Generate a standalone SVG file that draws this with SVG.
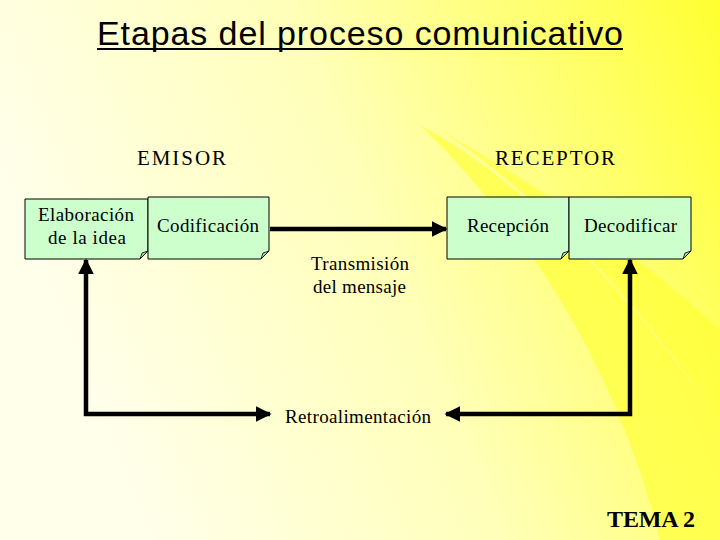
<svg xmlns="http://www.w3.org/2000/svg" width="720" height="540" viewBox="0 0 720 540">
<defs>
<linearGradient id="bg" x1="0" y1="0.3" x2="1" y2="0">
<stop offset="0" stop-color="#FFFFEA"/>
<stop offset="0.45" stop-color="#FFFFB8"/>
<stop offset="0.8" stop-color="#FFFF66"/>
<stop offset="1" stop-color="#FFFF30"/>
</linearGradient>
<marker id="ah" viewBox="0 0 10 10" refX="9" refY="5" markerWidth="3.5" markerHeight="3.5" orient="auto-start-reverse" markerUnits="strokeWidth">
<path d="M0,0 L10,5 L0,10 z" fill="#000"/>
</marker>
<style>
.box{fill:#CCFFCC;stroke:#000;stroke-width:1}
.fold{fill:#A8D8A8;stroke:#000;stroke-width:0.8}
.t{font-family:"Liberation Serif","Times New Roman",serif;fill:#000}
.c{stroke:#000;stroke-width:4.5;fill:none}
</style>
</defs>
<rect width="720" height="540" fill="url(#bg)"/>
<path d="M420,125 Q560,200 720,420 L720,540 L660,540 Q600,300 420,125 Z" fill="#FFFF3C" opacity="0.7"/>
<path d="M440,130 Q600,220 720,330 L720,420 Q580,220 440,130 Z" fill="#FFFF20" opacity="0.5"/>

<g id="title">
<text x="97" y="45" textLength="526" font-family="'Liberation Sans',Arial,sans-serif" font-size="34" fill="#000">Etapas del proceso comunicativo</text>
<rect x="97" y="48" width="526" height="2" fill="#000"/>
</g>

<g id="emisor"><text class="t" x="137" y="165" font-size="21" textLength="89">EMISOR</text></g>
<g id="receptor"><text class="t" x="495" y="165" font-size="21" textLength="120">RECEPTOR</text></g>

<g id="elaboracion">
<path class="box" d="M25,199 H148 V251 L140,259 H25 Z"/>
<path class="fold" d="M140,259 L142,253 L148,251 Z"/>
<text class="t" x="38" y="221" font-size="19" textLength="96">Elaboración</text>
<text class="t" x="48" y="244" font-size="19" textLength="78">de la idea</text>
</g>
<g id="codificacion">
<path class="box" d="M148,197 H269 V251 L261,259 H148 Z"/>
<path class="fold" d="M261,259 L263,253 L269,251 Z"/>
<text class="t" x="157" y="232" font-size="19" textLength="102">Codificación</text>
</g>
<g id="recepcion">
<path class="box" d="M447,197 H569 V251 L561,259 H447 Z"/>
<path class="fold" d="M561,259 L563,253 L569,251 Z"/>
<text class="t" x="467" y="232" font-size="19" textLength="82">Recepción</text>
</g>
<g id="decodificar">
<path class="box" d="M569,197 H691 V251 L683,259 H569 Z"/>
<path class="fold" d="M683,259 L685,253 L691,251 Z"/>
<text class="t" x="584" y="232" font-size="19" textLength="93">Decodificar</text>
</g>

<g id="transmision">
<text class="t" x="311" y="270" font-size="19" textLength="98">Transmisión</text>
<text class="t" x="313" y="293" font-size="19" textLength="93">del mensaje</text>
</g>
<g id="retro"><text class="t" x="285" y="423" font-size="19" textLength="146">Retroalimentación</text></g>

<g id="connectors">
<line class="c" x1="270" y1="229" x2="446" y2="229" marker-end="url(#ah)"/>
<path class="c" d="M86,260 V414 H270" marker-start="url(#ah)" marker-end="url(#ah)"/>
<path class="c" d="M630,260 V414 H446" marker-start="url(#ah)" marker-end="url(#ah)"/>
</g>

<g id="tema"><text class="t" x="607" y="527" font-size="24" font-weight="bold" textLength="88">TEMA 2</text></g>
</svg>
